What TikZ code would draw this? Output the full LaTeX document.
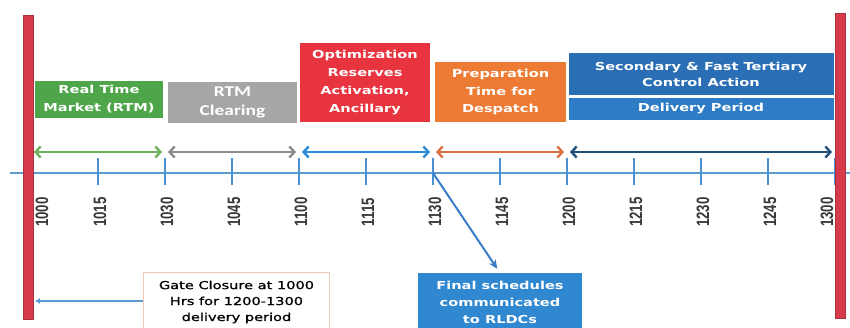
\documentclass[tikz,border=0pt]{standalone}
\usepackage{fontspec}
\usetikzlibrary{arrows.meta}

% stretched faces used for the labels
\newfontfamily\boxfont[FakeStretch=1.33]{DejaVu Sans}
\newfontfamily\gatefont[FakeStretch=1.33,FakeBold=1.2]{DejaVu Sans}
\newfontfamily\calfont[FakeStretch=1.3]{Carlito}
\newfontfamily\tickfont[FakeStretch=0.74]{Liberation Sans}

\definecolor{barred}{HTML}{D73A4B}
\definecolor{baredge}{HTML}{A8323F}
\definecolor{rtmgreen}{HTML}{4FA64A}
\definecolor{rtmgreenarrow}{HTML}{6DB05E}
\definecolor{clrgray}{HTML}{A6A6A6}
\definecolor{clrgrayarrow}{HTML}{8C8C8C}
\definecolor{optred}{HTML}{E8343F}
\definecolor{optblue}{HTML}{2A8AD8}
\definecolor{preporange}{HTML}{EE7B33}
\definecolor{preparrow}{HTML}{DD6E40}
\definecolor{ctrlblue}{HTML}{2A6FB6}
\definecolor{delblue}{HTML}{2E7CC6}
\definecolor{darkblue}{HTML}{215079}
\definecolor{axisblue}{HTML}{5B9BD5}
\definecolor{tickblue}{HTML}{4A90D2}
\definecolor{finblue}{HTML}{2F88D0}
\definecolor{finarrow}{HTML}{3A7CC8}
\definecolor{gateedge}{HTML}{F0C8B8}
\definecolor{ticktext}{HTML}{383838}

\begin{document}
\begin{tikzpicture}[x=1bp,y=-1bp,
  phase/.style={inner sep=0pt,align=center,text=white,
    font=\boxfont\bfseries\fontsize{11}{18}\selectfont},
  span/.style={line width=2.4pt,
    {Straight Barb[length=5pt,width=11pt]}-{Straight Barb[length=5pt,width=11pt]},
    shorten <=3pt,shorten >=3pt},
  tickmark/.style={draw=tickblue,line width=1.8pt},
  ticklabel/.style={rotate=90,inner sep=0pt,text=ticktext,
    font=\tickfont\bfseries\fontsize{18}{18}\selectfont},
  redbar/.style={fill=barred,draw=baredge,line width=0.6pt},
]
\clip (0,0) rectangle (850,327);
\fill[white] (0,0) rectangle (850,327);

% time axis
\coordinate (axl) at (10,173);
\coordinate (axr) at (850,173);
\draw[axisblue,line width=1.5pt] (axl) -- (axr);

% quarter-hour ticks and span end points
\foreach \i in {0,...,12}{
  \coordinate (t\i) at (31+67*\i,158);
  \coordinate (b\i) at (31+67*\i,185);
  \coordinate (p\i) at (31+67*\i,152);
  \draw[tickmark] (t\i) -- (b\i);
}
\foreach \i/\lab in {1/1015,2/1030,3/1045,4/1100,5/1115,6/1130,
                     7/1145,8/1200,9/1215,10/1230,11/1245}{
  \node[ticklabel] (l\i) at (33+67*\i,212) {\lab};
}
\node[ticklabel] (l0) at (42,212) {1000};
\node[ticklabel] (l12) at (827,212) {1300};

% boundary bars of the trading hour
\filldraw[redbar] (23,15) rectangle (33,319);
\filldraw[redbar] (835,13) rectangle (845,318);

% phase spans
\draw[span,rtmgreenarrow] (p0) -- (p2);
\draw[span,clrgrayarrow] (p2) -- (p4);
\draw[span,optblue] (p4) -- (p6);
\draw[span,preparrow] (p6) -- (p8);
\draw[span,darkblue] (p8) -- (p12);

% phase boxes
\node[phase,fill=rtmgreen,minimum width=128,minimum height=37]
  (rtm) at (99,99.5) {Real Time\\Market (RTM)};
\node[phase,fill=clrgray,minimum width=129,minimum height=41,
  font=\calfont\bfseries\fontsize{15}{19}\selectfont]
  (clr) at (232.5,102.5) {RTM\\Clearing};
\node[phase,fill=optred,minimum width=130,minimum height=79]
  (opt) at (365,82.5) {Optimization\\Reserves\\Activation,\\Ancillary};
\node[phase,fill=preporange,minimum width=131,minimum height=60]
  (prep) at (500.5,92) {Preparation\\Time for\\Despatch};
\node[phase,fill=ctrlblue,minimum width=266,minimum height=42,
  font=\boxfont\bfseries\fontsize{11}{16}\selectfont]
  (sec) at (701,74) {Secondary \& Fast Tertiary\\Control Action};
\node[phase,fill=delblue,minimum width=266,minimum height=22]
  (del) at (701,109) {Delivery Period};

% final schedules call-out
\node[phase,fill=finblue,minimum width=164,minimum height=58,
  font=\boxfont\bfseries\fontsize{11}{17}\selectfont]
  (fin) at (500,302) {Final schedules\\communicated\\to RLDCs};
\coordinate (c1130) at (433,173);
\draw[finarrow,line width=2pt,-{Stealth[length=9pt,width=8pt]},shorten >=5pt]
  (c1130) -- (fin.north);

% gate closure call-out
\node[draw=gateedge,fill=white,line width=0.8pt,inner sep=0pt,align=center,
  minimum width=187,minimum height=60,text=black,
  font=\gatefont\fontsize{11}{16}\selectfont]
  (gate) at (236.5,302) {Gate Closure at 1000\\Hrs for 1200-1300\\delivery period};
\coordinate (gc) at (35,301);
\draw[axisblue,line width=1.5pt,-{Latex[length=5pt,width=6pt]}]
  (gate.west |- gc) -- (gc);
\end{tikzpicture}
\end{document}
